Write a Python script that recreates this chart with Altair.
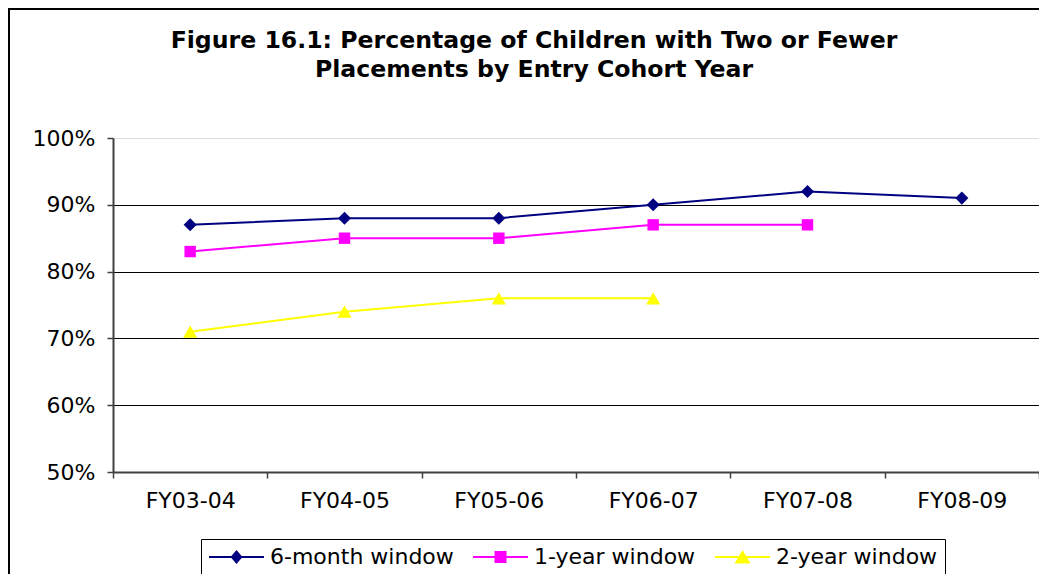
import altair as alt
import pandas as pd

categories = ["FY03-04", "FY04-05", "FY05-06", "FY06-07", "FY07-08", "FY08-09"]
series_names = ["6-month window", "1-year window", "2-year window"]
six_month = [0.87, 0.88, 0.88, 0.90, 0.92, 0.91]
one_year = [0.83, 0.85, 0.85, 0.87, 0.87, None]
two_year = [0.71, 0.74, 0.76, 0.76, None, None]
y_ticks = [0.5, 0.6, 0.7, 0.8, 0.9, 1.0]

colors = ["#000080", "#FF00FF", "#FFFF00"]
point_shapes = ["diamond", "square", "triangle-up"]
point_sizes = [170, 130, 200]

# legend symbols: a line with a marker in the middle (unit = 10px)
legend_paths = [
    "M-1,-0.1L4.5,-0.1L4.5,0.1L-1,0.1Z M1.75,-0.7L2.35,0L1.75,0.7L1.15,0Z",
    "M-1,-0.1L4.5,-0.1L4.5,0.1L-1,0.1Z M1.15,-0.6L2.35,-0.6L2.35,0.6L1.15,0.6Z",
    "M-1,-0.1L4.5,-0.1L4.5,0.1L-1,0.1Z M1.75,-0.7L2.55,0.65L0.95,0.65Z",
]

rows = []
for name, vals in zip(series_names, [six_month, one_year, two_year]):
    for c, v in zip(categories, vals):
        if v is not None:
            rows.append({"cohort": c, "series": name, "value": v})
df = pd.DataFrame(rows)

FONT = "DejaVu Sans"

x_enc = alt.X(
    "cohort:N",
    sort=categories,
    bandPosition=0.5,
    scale=alt.Scale(type="band", domain=categories, paddingInner=0, paddingOuter=0),
    axis=alt.Axis(
        title=None,
        labelAngle=0,
        tickBand="extent",
        tickSize=6,
        tickColor="#404040",
        tickWidth=1.5,
        domainColor="#404040",
        domainWidth=2,
        labelFont=FONT,
        labelFontSize=22,
        labelColor="black",
        labelPadding=12,
        grid=False,
    ),
)
y_enc = alt.Y(
    "value:Q",
    scale=alt.Scale(domain=[0.5, 1.0], nice=False, zero=False),
    axis=alt.Axis(
        title=None,
        values=y_ticks,
        format=".0%",
        tickSize=6,
        tickColor="#404040",
        tickWidth=1.5,
        domainColor="#404040",
        domainWidth=2,
        labelFont=FONT,
        labelFontSize=22,
        labelColor="black",
        labelPadding=12,
        grid=True,
        gridColor="black",
        gridWidth=1,
        gridOpacity={"condition": {"test": "datum.value > 0.99 || datum.value < 0.51", "value": 0}, "value": 1},
    ),
)
color_scale = alt.Scale(domain=series_names, range=colors)

base = alt.Chart(df)

legend_props = dict(
    title=None,
    orient="none",
    direction="horizontal",
    legendX=88,
    legendY=401,
    strokeColor="black",
    fillColor="white",
    padding=7,
    labelFont=FONT,
    labelFontSize=22,
    labelColor="black",
    labelOffset=40,
    labelLimit=400,
    columnPadding=18,
    symbolSize=400,
    symbolOpacity=1,
    symbolStrokeWidth=0,
)

legend_layer = base.mark_point(filled=True, opacity=0).encode(
    x=x_enc,
    y=y_enc,
    color=alt.Color("series:N", scale=color_scale, legend=alt.Legend(**legend_props)),
    shape=alt.Shape(
        "series:N",
        scale=alt.Scale(domain=series_names, range=legend_paths),
        legend=alt.Legend(**legend_props),
    ),
)

lines = base.mark_line(strokeWidth=2).encode(
    x=x_enc,
    y=y_enc,
    color=alt.Color("series:N", scale=color_scale, legend=None),
    detail="series:N",
)

point_layers = []
for name, shp, sz in zip(series_names, point_shapes, point_sizes):
    point_layers.append(
        base.transform_filter(alt.datum.series == name)
        .mark_point(shape=shp, filled=True, size=sz, opacity=1)
        .encode(
            x=x_enc,
            y=y_enc,
            color=alt.Color("series:N", scale=color_scale, legend=None),
        )
    )

frame = alt.Chart(pd.DataFrame({"k": [0]})).mark_rect(
    fill="transparent", stroke="black", strokeWidth=2
).encode(
    x=alt.value(-104), x2=alt.value(1200), y=alt.value(-129), y2=alt.value(700)
)

chart = (
    alt.layer(legend_layer, frame, lines, *point_layers)
    .properties(
        width=926,
        height=334,
        autosize=alt.AutoSizeParams(type="none"),
        padding={"left": 105, "top": 130, "right": 0, "bottom": 102},
        title=alt.TitleParams(
            text=[
                "Figure 16.1: Percentage of Children with Two or Fewer",
                "Placements by Entry Cohort Year",
            ],
            font=FONT,
            fontSize=23.6,
            fontWeight="bold",
            color="black",
            anchor="middle",
            dx=-42,
            dy=130,
            offset=56,
            lineHeight=29,
        ),
    )
    .configure_view(stroke="#999999", strokeWidth=2)
    .configure(background="white")
)

chart.save("out.html", embed_options={"renderer": "svg", "actions": False})
